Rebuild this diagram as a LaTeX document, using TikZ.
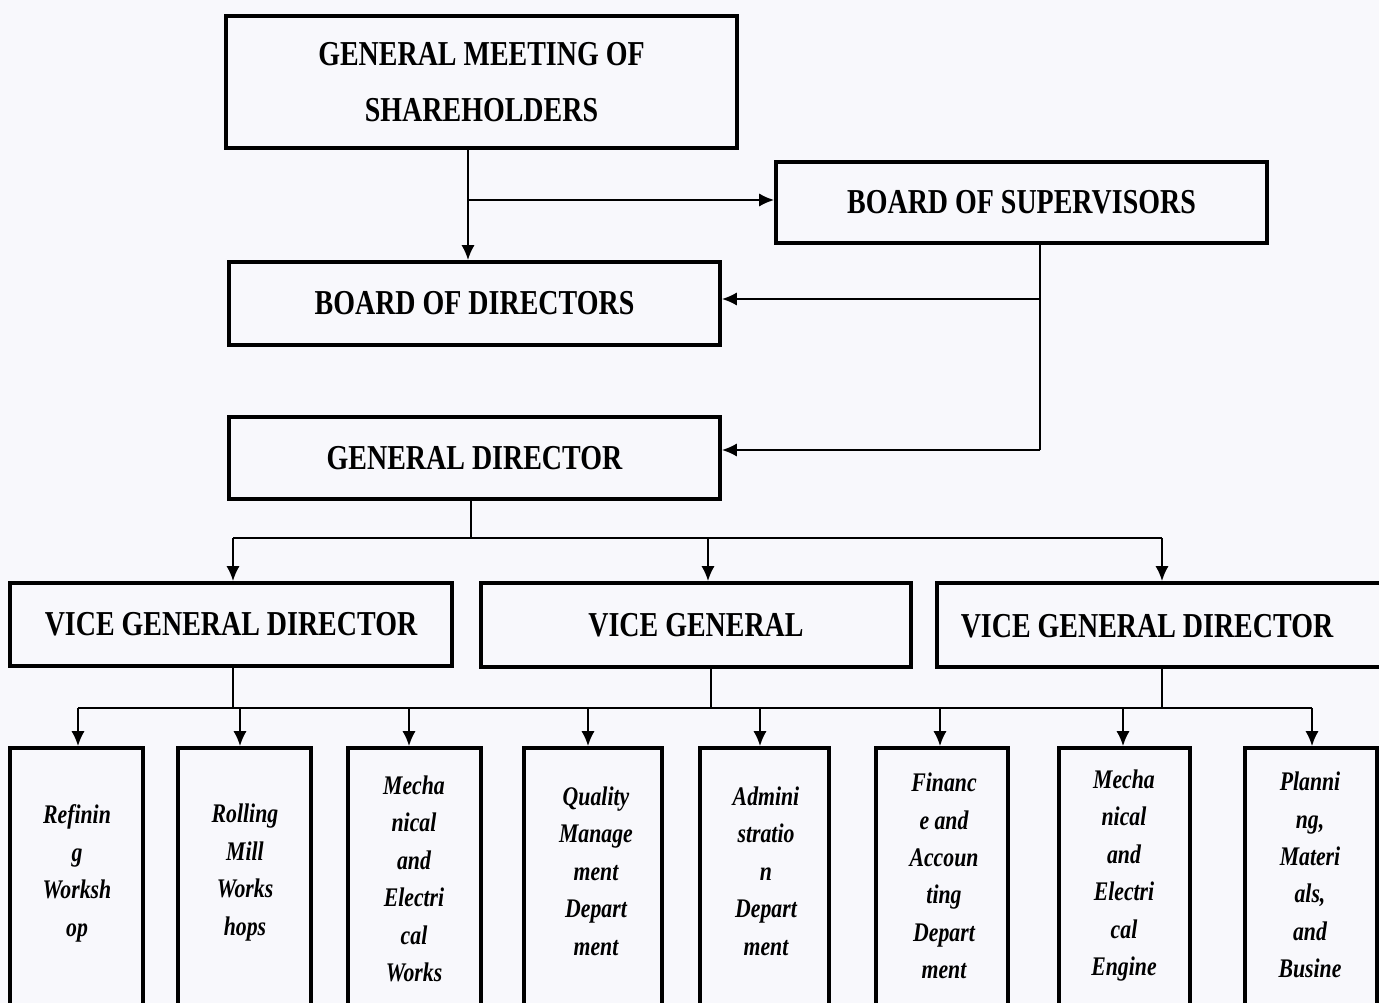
\documentclass[tikz,border=0pt]{standalone}
\usepackage{fontspec}
\newfontfamily\cond{Liberation Serif}[FakeStretch=0.8]
\newfontfamily\condi{Liberation Serif}[FakeStretch=0.81]
\usetikzlibrary{arrows.meta}
\definecolor{paper}{RGB}{248,248,252}
\tikzset{
  box/.style={draw=black, line width=2.2pt, inner sep=0pt},
  topfont/.style={font=\cond\bfseries\fontsize{19.9}{31.8}\selectfont, align=center},
  leaffont/.style={font=\condi\bfseries\itshape\fontsize{15.3}{21.3}\selectfont, align=center},
  conn/.style={line width=1.1pt},
  arr/.style={conn, -{Latex[length=8.5pt,width=7.5pt]}},
}
\begin{document}
\begin{tikzpicture}[x=0.02cm,y=-0.02cm]
\clip (0,0) rectangle (1379,1003);
\fill[paper] (0,0) rectangle (1379,1003);
% top level
\node[box, topfont, minimum width=10.22cm, minimum height=2.64cm] (gms) at (481.5,82) {GENERAL MEETING OF\\SHAREHOLDERS};
\node[box, topfont, minimum width=9.82cm, minimum height=1.62cm] (bos) at (1021.5,202.5) {BOARD OF SUPERVISORS};
\node[box, topfont, minimum width=9.82cm, minimum height=1.66cm] (bod) at (474.5,303.5) {BOARD OF DIRECTORS};
\node[box, topfont, minimum width=9.82cm, minimum height=1.64cm] (gd) at (474.5,458) {GENERAL DIRECTOR};
% vice level
\node[box, topfont, minimum width=8.84cm, minimum height=1.66cm] (v1) at (231,624.5) {VICE GENERAL DIRECTOR};
\node[box, topfont, minimum width=8.6cm, minimum height=1.68cm] (v2) at (696,625) {VICE GENERAL};
\node[box, minimum width=9.0cm, minimum height=1.68cm] (v3) at (1162,625) {};
\node[topfont] (v3t) at (1147,626) {VICE GENERAL DIRECTOR};
% leaves
\node[box, minimum width=2.66cm, minimum height=5.64cm] (b1) at (76.5,889) {};
\node[box, minimum width=2.66cm, minimum height=5.64cm] (b2) at (244.5,889) {};
\node[box, minimum width=2.66cm, minimum height=5.64cm] (b3) at (414.5,889) {};
\node[box, minimum width=2.76cm, minimum height=5.64cm] (b4) at (593,889) {};
\node[box, minimum width=2.58cm, minimum height=5.64cm] (b5) at (764.5,889) {};
\node[box, minimum width=2.64cm, minimum height=5.64cm] (b6) at (942,889) {};
\node[box, minimum width=2.62cm, minimum height=5.64cm] (b7) at (1124.5,889) {};
\node[box, minimum width=2.64cm, minimum height=5.64cm] (b8) at (1311,889) {};
\node[leaffont] (t1) at (77,873.5) {Refinin\\g\\Worksh\\op};
\node[leaffont] (t2) at (245,872.5) {Rolling\\Mill\\Works\\hops};
\node[leaffont] (t3) at (414,879) {Mecha\\nical\\and\\Electri\\cal\\Works};
\node[leaffont] (t4) at (596,871) {Quality\\Manage\\ment\\Depart\\ment};
\node[leaffont] (t5) at (766,871) {Admini\\stratio\\n\\Depart\\ment};
\node[leaffont] (t6) at (944,876) {Financ\\e and\\Accoun\\ting\\Depart\\ment};
\node[leaffont] (t7) at (1124,875.5) {Mecha\\nical\\and\\Electri\\cal\\Engine};
\node[leaffont] (t8) at (1310,875) {Planni\\ng,\\Materi\\als,\\and\\Busine};
% junction coordinates
\coordinate (jA) at (468,200);
\coordinate (kB) at (1040,299);
\coordinate (kG) at (1040,450);
\coordinate (g0) at (471,538);
\coordinate (hL) at (233,538);
\coordinate (hM) at (708,538);
\coordinate (hR) at (1162,538);
\coordinate (m1) at (233,708);
\coordinate (m2) at (711,708);
\coordinate (m3) at (1162,708);
\coordinate (l1) at (78,708);
\coordinate (l2) at (240,708);
\coordinate (l3) at (409,708);
\coordinate (l4) at (588,708);
\coordinate (l5) at (760,708);
\coordinate (l6) at (940,708);
\coordinate (l7) at (1123,708);
\coordinate (l8) at (1312,708);
% connectors
\draw[arr] (gms.south -| jA) -- (bod.north -| jA);
\draw[arr] (jA) -- (bos.west |- jA);
\draw[conn] (bos.south -| kB) -- (kG);
\draw[arr] (kB) -- (bod.east |- kB);
\draw[arr] (kG) -- (gd.east |- kG);
\draw[conn] (gd.south -| g0) -- (g0);
\draw[conn] (hL) -- (hR);
\draw[arr] (hL) -- (v1.north -| hL);
\draw[arr] (hM) -- (v2.north -| hM);
\draw[arr] (hR) -- (v3.north -| hR);
\draw[conn] (v1.south -| m1) -- (m1);
\draw[conn] (v2.south -| m2) -- (m2);
\draw[conn] (v3.south -| m3) -- (m3);
\draw[conn] (l1) -- (l8);
\draw[arr] (l1) -- (b1.north -| l1);
\draw[arr] (l2) -- (b2.north -| l2);
\draw[arr] (l3) -- (b3.north -| l3);
\draw[arr] (l4) -- (b4.north -| l4);
\draw[arr] (l5) -- (b5.north -| l5);
\draw[arr] (l6) -- (b6.north -| l6);
\draw[arr] (l7) -- (b7.north -| l7);
\draw[arr] (l8) -- (b8.north -| l8);
\end{tikzpicture}
\end{document}
